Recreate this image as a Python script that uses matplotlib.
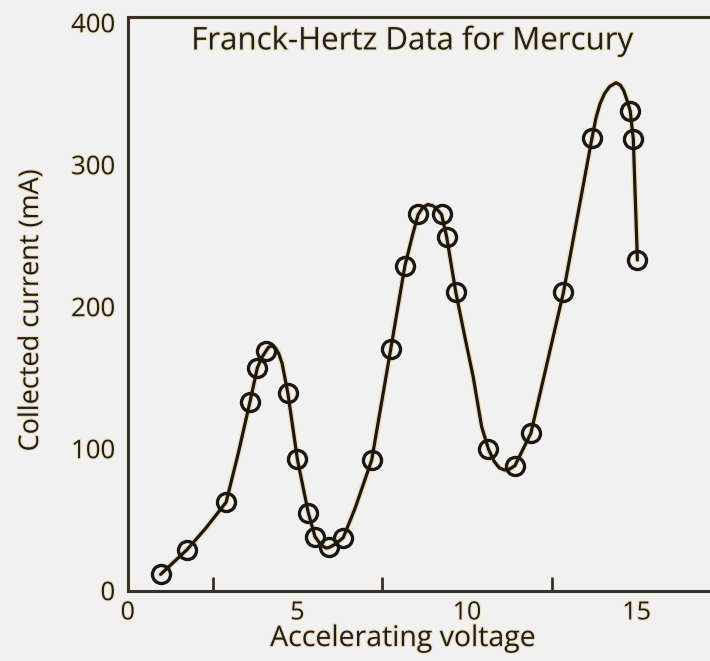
'''
Franck-Hertz data for mercury: collected current vs accelerating voltage
'''

import numpy as np
import matplotlib
matplotlib.use('Agg')
import matplotlib.pyplot as plt
import matplotlib.patheffects as pe

plt.rcParams['font.family'] = ['Open Sans', 'DejaVu Sans']

# measured points (circles)
volts = [0.97, 1.74, 2.90, 3.60, 3.82, 4.08, 4.72, 5.00, 5.32, 5.52, 5.94, 6.35,
         7.19, 7.75, 8.17, 8.56, 9.25, 9.40, 9.67, 10.63, 11.41, 11.88, 12.84,
         13.68, 14.81, 14.90, 15.02]
current = [11.5, 28.7, 62.3, 132.7, 157, 169, 139, 92.5, 55, 38, 31, 37.3,
           92, 170, 229, 265, 265, 249, 210, 99.8, 88, 110.8, 210,
           318.6, 337.8, 317.9, 232.9]

# hand drawn fit curve
curve_v = [0.97, 1.74, 2.30, 2.90, 3.25, 3.60, 3.82, 3.96, 4.08, 4.15, 4.25, 4.35,
           4.45, 4.55, 4.72, 5.00, 5.32, 5.52, 5.70, 5.85, 5.94, 6.10, 6.35, 6.70,
           7.19, 7.75, 8.17, 8.40, 8.56, 8.70, 8.85, 9.00, 9.12, 9.25, 9.40, 9.67,
           9.95, 10.18, 10.43, 10.63, 10.80, 10.95, 11.10, 11.25, 11.41, 11.88,
           12.84, 13.68, 13.80, 13.92, 14.05, 14.20, 14.39, 14.52, 14.62, 14.72,
           14.81, 14.90, 14.96, 15.02]
curve_i = [11.5, 28.7, 44, 62.3, 96, 132.7, 157, 164.5, 169, 171.5, 172.3, 171,
           167, 160, 139, 92.5, 55, 38, 32, 30, 30.5, 32.5, 37.3, 58,
           92, 170, 229, 251, 265, 270, 272, 271, 268.5, 265, 249, 210,
           177, 150.7, 115.5, 99.8, 91, 86.5, 85, 85.6, 88, 110.8,
           210, 318.6, 333, 343, 350, 355, 357.7, 356, 352, 345,
           337.8, 317.9, 275, 232.9]

xticks = [0, 5, 10, 15]
xminor = [2.5, 5, 7.5, 10, 12.5, 15]
yticks = [0, 100, 200, 300, 400]
yminor = [100, 200, 300]

ink = '#1b1712'
txt = '#1e1e1e'
glow = '#efdcb6'
bg = '#f1f1f1'
axcol = '#3a3126'
halo = [pe.Stroke(linewidth=4.2, foreground=glow), pe.Normal()]
thalo = [pe.withStroke(linewidth=1.6, foreground=glow)]

fig = plt.figure(figsize=(7.1, 6.61), dpi=100, facecolor=bg)
ax = fig.add_axes([0.1799, 0.1064, 0.8201, 0.8674])
ax.set_facecolor(bg)

ax.plot(curve_v, curve_i, color=ink, lw=2.3, solid_capstyle='round',
        path_effects=halo, zorder=3)
ax.plot(volts, current, linestyle='none', marker='o', ms=13, mfc='none',
        mec=ink, mew=2.4, zorder=4)

ax.set_xticks(xticks)
ax.set_xticks(xminor, minor=True)
ax.set_yticks(yticks)
ax.set_yticks(yminor, minor=True)
ax.set_xlim(0, 17.16)
ax.set_ylim(0, 403.8)

for s in ['left', 'bottom', 'top']:
    ax.spines[s].set_color(axcol)
    ax.spines[s].set_linewidth(2.2)
ax.spines['right'].set_visible(False)

# labels on major ticks, marks on minor ticks only
ax.tick_params(axis='x', which='major', direction='in', length=0,
               pad=7, labelsize=18, labelcolor=txt)
ax.tick_params(axis='x', which='minor', direction='in', length=10, width=2,
               color=axcol)
ax.tick_params(axis='y', which='major', direction='in', length=0,
               pad=9, labelsize=18.5, labelcolor=txt)
ax.tick_params(axis='y', which='minor', direction='in', length=14, width=2,
               color=axcol)
for lab in ax.get_xticklabels() + ax.get_yticklabels():
    lab.set_path_effects(thalo)

ax.set_xlabel('Accelerating voltage', fontsize=20.5, color=txt, path_effects=thalo)
ax.xaxis.set_label_coords(0.473, -0.060)
ax.set_ylabel('Collected current (mA)', fontsize=19.5, color=txt, path_effects=thalo)
ax.yaxis.set_label_coords(-0.142, 0.49)

ax.text(0.488, 0.944, 'Franck-Hertz Data for Mercury', transform=ax.transAxes,
        ha='center', va='baseline', fontsize=22.5, color=txt, path_effects=thalo)

plt.savefig('out.png', dpi=100, facecolor=bg)
print('DONE')
